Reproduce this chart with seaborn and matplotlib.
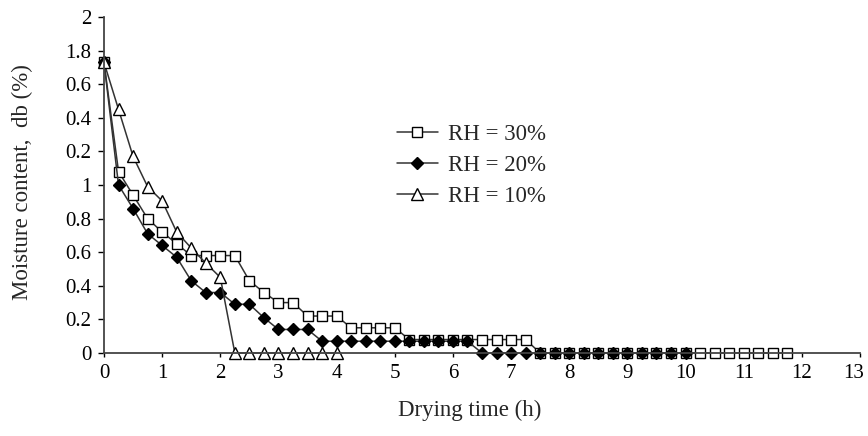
import matplotlib
matplotlib.use("Agg")
import matplotlib.pyplot as plt
import matplotlib.transforms as mtransforms
import seaborn as sns
import pandas as pd

# ---- data ----
t30 = [0, 0.25, 0.5, 0.75, 1.0, 1.25, 1.5, 1.75, 2.0, 2.25, 2.5, 2.75, 3.0, 3.25,
       3.5, 3.75, 4.0, 4.25, 4.5, 4.75, 5.0, 5.25, 5.5, 5.75, 6.0, 6.25, 6.5, 6.75,
       7.0, 7.25, 7.5, 7.75, 8.0, 8.25, 8.5, 8.75, 9.0, 9.25, 9.5, 9.75, 10.0, 10.25,
       10.5, 10.75, 11.0, 11.25, 11.5, 11.75]
rh30 = [1.73, 1.08, 0.94, 0.80, 0.72, 0.65, 0.58, 0.58, 0.58, 0.58, 0.43, 0.36, 0.30, 0.30,
        0.22, 0.22, 0.22, 0.15, 0.15, 0.15, 0.15, 0.08, 0.08, 0.08, 0.08, 0.08, 0.08, 0.08,
        0.08, 0.08, 0, 0, 0, 0, 0, 0, 0, 0, 0, 0, 0, 0,
        0, 0, 0, 0, 0, 0]

t20 = [0, 0.25, 0.5, 0.75, 1.0, 1.25, 1.5, 1.75, 2.0, 2.25, 2.5, 2.75, 3.0, 3.25,
       3.5, 3.75, 4.0, 4.25, 4.5, 4.75, 5.0, 5.25, 5.5, 5.75, 6.0, 6.25, 6.5, 6.75,
       7.0, 7.25, 7.5, 7.75, 8.0, 8.25, 8.5, 8.75, 9.0, 9.25, 9.5, 9.75, 10.0]
rh20 = [1.73, 1.00, 0.86, 0.71, 0.64, 0.57, 0.43, 0.36, 0.36, 0.29, 0.29, 0.21, 0.14, 0.14,
        0.14, 0.07, 0.07, 0.07, 0.07, 0.07, 0.07, 0.07, 0.07, 0.07, 0.07, 0.07, 0, 0,
        0, 0, 0, 0, 0, 0, 0, 0, 0, 0, 0, 0, 0]

t10 = [0, 0.25, 0.5, 0.75, 1.0, 1.25, 1.5, 1.75, 2.0, 2.25, 2.5, 2.75, 3.0, 3.25,
       3.5, 3.75, 4.0]
rh10 = [1.73, 1.45, 1.17, 0.99, 0.905, 0.72, 0.625, 0.535, 0.45, 0, 0, 0, 0, 0,
        0, 0, 0]

labels = ["RH = 30%", "RH = 20%", "RH = 10%"]
x_ticks = [0, 1, 2, 3, 4, 5, 6, 7, 8, 9, 10, 11, 12, 13]
y_ticks = [0, 0.2, 0.4, 0.6, 0.8, 1.0, 1.2, 1.4, 1.6, 1.8, 2.0]
y_tick_labels = ["0", "0.2", "0.4", "0.6", "0.8", "1", "0.2", "0.4", "0.6", "1.8", "2"]

sns.set_style("ticks")
plt.rcParams["font.family"] = ["Liberation Serif", "DejaVu Serif"]

fig = plt.figure(figsize=(8.68, 4.36), dpi=100)
ax = fig.add_axes([0.1198, 0.1904, 0.8710, 0.7706])

styles = [
    dict(marker="s", markersize=7, markerfacecolor="white", markeredgecolor="black", markeredgewidth=1.0),
    dict(marker="D", markersize=6, markerfacecolor="black", markeredgecolor="black", markeredgewidth=1.0),
    dict(marker="^", markersize=8, markerfacecolor="white", markeredgecolor="black", markeredgewidth=1.0),
]
series = [(t30, rh30), (t20, rh20), (t10, rh10)]
for (tt, vv), lab, st in zip(series, labels, styles):
    df = pd.DataFrame({"t": tt, "v": vv})
    sns.lineplot(data=df, x="t", y="v", ax=ax, color="#333333", linewidth=1.1,
                 label=lab, clip_on=False, **st)

ax.set_xlim(0, 13)
ax.set_ylim(0, 2)
ax.set_xticks(x_ticks)
ax.set_xticklabels([str(v) for v in x_ticks])
ax.set_yticks(y_ticks)
ax.set_yticklabels(y_tick_labels)
ax.tick_params(axis="both", labelsize=15, direction="out", length=4, width=1, colors="black")
ax.tick_params(axis="x", length=3, pad=5)
ax.tick_params(axis="y", pad=5)
for s in ["top", "right"]:
    ax.spines[s].set_visible(False)
for s in ["left", "bottom"]:
    ax.spines[s].set_color("#444444")
    ax.spines[s].set_linewidth(1.3)

# shift last x tick label slightly left so it stays inside the figure
last = ax.get_xticklabels()[-1]
last.set_transform(last.get_transform() + mtransforms.ScaledTranslation(-6 / 100, 0, fig.dpi_scale_trans))

ax.set_xlabel("Drying time (h)", fontsize=16.5)
ax.xaxis.set_label_coords(0.4835, -0.14)
ax.set_ylabel("Moisture content,  db (%)", fontsize=16.5)
ax.yaxis.set_label_coords(-0.094, 0.51)

leg = ax.legend(loc="upper left", bbox_to_anchor=(0.375, 0.71), frameon=False,
                fontsize=16.5, handlelength=1.8, handletextpad=0.45, labelspacing=0.45,
                borderaxespad=0)

fig.savefig("out.png", dpi=100)
